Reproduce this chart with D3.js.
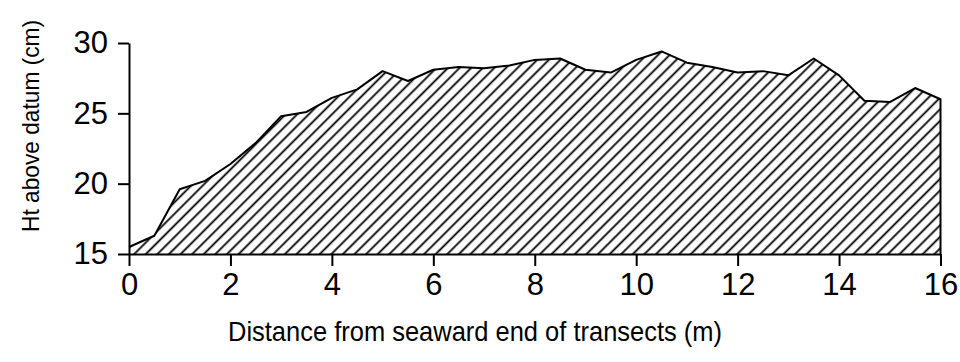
<!DOCTYPE html>
<html lang='en'>
<head>
  <meta charset='utf-8'>
  <title>Beach profile</title>
  <script src='https://d3js.org/d3.v7.min.js'></script>
  <style>
    body { margin: 0; background: #fff; }
    text { font-family: 'Liberation Sans', Arial, sans-serif; fill: #000; }
    .axis path, .axis line { stroke: #000; stroke-width: 2; }
    .axis text { font-size: 31px; }
  </style>
</head>
<body>
<script>
// distance along transect (m) and mean height above datum (cm)
var distance = [0, 0.5, 1, 1.5, 2, 2.5, 3, 3.5, 4, 4.5, 5, 5.5, 6, 6.5, 7, 7.5, 8,
                8.5, 9, 9.5, 10, 10.5, 11, 11.5, 12, 12.5, 13, 13.5, 14, 14.5, 15, 15.5, 16];
var height = [15.5, 16.3, 19.6, 20.2, 21.4, 22.9, 24.8, 25.1, 26.1, 26.7, 28.0, 27.3, 28.1,
              28.3, 28.2, 28.4, 28.8, 28.9, 28.1, 27.9, 28.8, 29.4, 28.6, 28.3, 27.9, 28.0,
              27.7, 28.9, 27.7, 25.9, 25.8, 26.8, 26.0];
var xTicks = [0, 2, 4, 6, 8, 10, 12, 14, 16];
var yTicks = [15, 20, 25, 30];

var width = 960;
var h = 362;

var svg = d3.select('body')
  .append('svg')
  .attr('width', width)
  .attr('height', h);

// diagonal hatch for the profile
var defs = svg.append('defs');
var pat = defs.append('pattern')
  .attr('id', 'hatch')
  .attr('patternUnits', 'userSpaceOnUse')
  .attr('width', 20)
  .attr('height', 8.2)
  .attr('patternTransform', 'rotate(-45)');
pat.append('line')
  .attr('x1', 0).attr('x2', 20)
  .attr('y1', 4).attr('y2', 4)
  .attr('stroke', '#000')
  .attr('stroke-width', 1.8);

var x = d3.scaleLinear().domain([0, 16]).range([129, 940.5]);
var y = d3.scaleLinear().domain([15, 30]).range([254, 43]);

var pts = distance.map(function(d, i) { return [d, height[i]]; });

var area = d3.area()
  .x(function(d) { return x(d[0]); })
  .y0(y(15))
  .y1(function(d) { return y(d[1]); });

svg.append('path')
  .datum(pts)
  .attr('fill', 'url(#hatch)')
  .attr('d', area);

// outline of the profile top, with the closing edge at the far end
var line = d3.line()
  .x(function(d) { return x(d[0]); })
  .y(function(d) { return y(d[1]); });

svg.append('path')
  .datum(pts.concat([[16, 15]]))
  .attr('fill', 'none')
  .attr('stroke', '#000')
  .attr('stroke-width', 2)
  .attr('stroke-linejoin', 'round')
  .attr('d', line);

svg.append('g')
  .attr('class', 'axis')
  .attr('transform', 'translate(0,' + y(15) + ')')
  .call(d3.axisBottom(x).tickValues(xTicks).tickSizeInner(12).tickSizeOuter(0).tickPadding(7));

svg.append('g')
  .attr('class', 'axis')
  .attr('transform', 'translate(' + x(0) + ',0)')
  .call(d3.axisLeft(y).tickValues(yTicks).tickSizeInner(11).tickSizeOuter(0).tickPadding(10));

svg.selectAll('.axis').attr('font-family', null).attr('font-size', null);

svg.append('text')
  .attr('x', 475)
  .attr('y', 341)
  .attr('text-anchor', 'middle')
  .attr('font-size', 28)
  .attr('textLength', 494)
  .attr('lengthAdjust', 'spacingAndGlyphs')
  .text('Distance from seaward end of transects (m)');

svg.append('text')
  .attr('transform', 'translate(39,126) rotate(-90)')
  .attr('text-anchor', 'middle')
  .attr('font-size', 24)
  .attr('textLength', 212)
  .attr('lengthAdjust', 'spacingAndGlyphs')
  .text('Ht above datum (cm)');
</script>
</body>
</html>
